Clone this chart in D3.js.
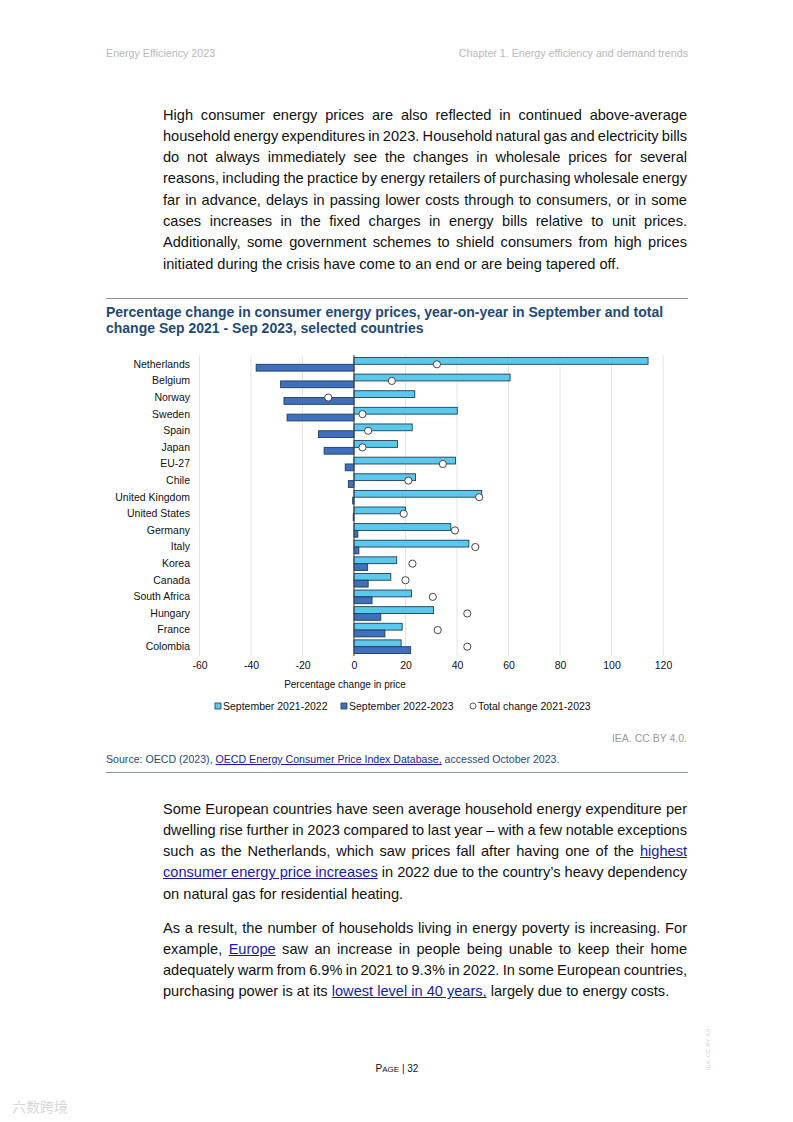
<!DOCTYPE html>
<html><head><meta charset="utf-8">
<script src="https://cdn.jsdelivr.net/npm/d3@7"></script>
<style>
html,body{margin:0;padding:0;background:#fff;}
#page{position:relative;width:793px;height:1122px;overflow:hidden;font-family:"Liberation Sans",Arial,sans-serif;}
svg{position:absolute;left:0;top:0;}
.para{position:absolute;left:163px;width:524px;font-size:14.6px;color:#111;}
.para div{height:21.3px;line-height:21.3px;white-space:nowrap;text-align:justify;text-align-last:justify;word-spacing:-1px;}
.para div.last{text-align-last:left;word-spacing:0;}
.para a{color:#1a1aa6;text-decoration:underline;}
</style></head>
<body><div id="page"></div>
<script>
const countries = ["Netherlands","Belgium","Norway","Sweden","Spain","Japan","EU-27","Chile","United Kingdom","United States","Germany","Italy","Korea","Canada","South Africa","Hungary","France","Colombia"];
const sep2122 = [114.2,60.6,23.6,40.1,22.6,16.9,39.4,23.9,49.6,20.0,37.6,44.6,16.6,14.3,22.3,30.9,18.7,18.3];
const sep2223 = [-38.0,-28.5,-27.2,-26.0,-13.8,-11.6,-3.4,-2.2,-0.5,-0.3,1.5,1.9,5.3,5.5,7.0,10.4,12.0,22.0];
const total2123 = [32.2,14.7,-10.0,3.3,5.5,3.3,34.5,21.1,48.6,19.3,39.2,47.1,22.7,20.0,30.6,44.0,32.5,44.0];
const xTicks = [-60,-40,-20,0,20,40,60,80,100,120];
const legendLabels = ["September 2021-2022","September 2022-2023","Total change 2021-2023"];

const page = d3.select("#page");
const W = 793, H = 1122;
const svg = page.append("svg").attr("width",W).attr("height",H);

// header
svg.append("text").attr("x",106).attr("y",57).attr("font-size",10.7).attr("fill","#b8b8b8").text("Energy Efficiency 2023");
svg.append("text").attr("x",688).attr("y",57).attr("text-anchor","end").attr("font-size",10.7).attr("fill","#b8b8b8").text("Chapter 1. Energy efficiency and demand trends");

// paragraphs
function para(top, lines){
  const p = page.append("div").attr("class","para").style("top",top+"px");
  lines.forEach((l,i)=>{ p.append("div").attr("class", l.last ? "last" : null).html(l.t); });
}
para(104.5,[
 {t:"High consumer energy prices are also reflected in continued above-average"},
 {t:"household energy expenditures in 2023. Household natural gas and electricity bills"},
 {t:"do not always immediately see the changes in wholesale prices for several"},
 {t:"reasons, including the practice by energy retailers of purchasing wholesale energy"},
 {t:"far in advance, delays in passing lower costs through to consumers, or in some"},
 {t:"cases increases in the fixed charges in energy bills relative to unit prices."},
 {t:"Additionally, some government schemes to shield consumers from high prices"},
 {t:"initiated during the crisis have come to an end or are being tapered off.", last:true}
]);
para(798.5,[
 {t:"Some European countries have seen average household energy expenditure per"},
 {t:"dwelling rise further in 2023 compared to last year – with a few notable exceptions"},
 {t:"such as the Netherlands, which saw prices fall after having one of the <a>highest</a>"},
 {t:"<a>consumer energy price increases</a> in 2022 due to the country’s heavy dependency"},
 {t:"on natural gas for residential heating.", last:true}
]);
para(917.5,[
 {t:"As a result, the number of households living in energy poverty is increasing. For"},
 {t:"example, <a>Europe</a> saw an increase in people being unable to keep their home"},
 {t:"adequately warm from 6.9% in 2021 to 9.3% in 2022. In some European countries,"},
 {t:"purchasing power is at its <a>lowest level in 40 years,</a> largely due to energy costs.", last:true}
]);

// chart frame lines and title
const navy = "#1f4a73";
svg.append("line").attr("x1",106).attr("x2",688).attr("y1",298.5).attr("y2",298.5).attr("stroke","#8597ab").attr("stroke-width",1);
svg.append("line").attr("x1",106).attr("x2",688).attr("y1",772.5).attr("y2",772.5).attr("stroke","#8597ab").attr("stroke-width",1);
const title = svg.append("text").attr("font-size",14).attr("font-weight","bold").attr("fill",navy);
title.append("tspan").attr("x",106).attr("y",317).text("Percentage change in consumer energy prices, year-on-year in September and total");
title.append("tspan").attr("x",106).attr("y",333).text("change Sep 2021 - Sep 2023, selected countries");

// scales
const x = d3.scaleLinear().domain([-60,120]).range([199.5,663]);
const y = d3.scaleBand().domain(countries).range([356,655]);
const bw = y.bandwidth();

// grid
svg.append("g").selectAll("line").data(xTicks).join("line")
  .attr("x1",d=>x(d)).attr("x2",d=>x(d)).attr("y1",355).attr("y2",656)
  .attr("stroke","#e4e4e4").attr("stroke-width",1);

// x axis labels
const xAxis = d3.axisBottom(x).tickValues(xTicks).tickSize(0).tickPadding(0).tickFormat(d=>String(d));
const gx = svg.append("g").attr("transform","translate(0,662)").call(xAxis);
gx.select(".domain").remove();
gx.selectAll("text").attr("font-size",10.5).attr("fill","#111").attr("font-family","Liberation Sans, Arial, sans-serif");
svg.append("text").attr("x",345).attr("y",688).attr("text-anchor","middle").attr("font-size",10).attr("fill","#111").text("Percentage change in price");

// y labels
const yAxis = d3.axisLeft(y).tickSize(0).tickPadding(0);
const gy = svg.append("g").attr("transform","translate(190,0)").call(yAxis);
gy.select(".domain").remove();
gy.selectAll("text").attr("font-size",10.5).attr("fill","#111").attr("font-family","Liberation Sans, Arial, sans-serif");

const lightC = "#5cc8ec", darkC = "#3f6fbd", strokeC = "#1c3f5e";
const bh = 6.8;
// light bars
svg.append("g").selectAll("rect").data(countries).join("rect")
  .attr("x",(d,i)=>Math.min(x(0),x(sep2122[i])))
  .attr("width",(d,i)=>Math.abs(x(sep2122[i])-x(0)))
  .attr("y",d=>y(d)+bw/2-bh).attr("height",bh)
  .attr("fill",lightC).attr("stroke",strokeC).attr("stroke-width",0.9);
// dark bars
svg.append("g").selectAll("rect").data(countries).join("rect")
  .attr("x",(d,i)=>Math.min(x(0),x(sep2223[i])))
  .attr("width",(d,i)=>Math.abs(x(sep2223[i])-x(0)))
  .attr("y",d=>y(d)+bw/2).attr("height",bh)
  .attr("fill",darkC).attr("stroke",strokeC).attr("stroke-width",0.9);
// zero line
svg.append("line").attr("x1",x(0)).attr("x2",x(0)).attr("y1",355).attr("y2",656).attr("stroke","#444").attr("stroke-width",1);
// circles
svg.append("g").selectAll("circle").data(countries).join("circle")
  .attr("cx",(d,i)=>x(total2123[i])).attr("cy",d=>y(d)+bw/2).attr("r",3.6)
  .attr("fill","#fff").attr("stroke","#333").attr("stroke-width",0.9);

// legend
const lg = svg.append("g").attr("font-size",10.5).attr("fill","#111");
const lx = [218,344,473];
lg.append("rect").attr("x",lx[0]-3).attr("y",703).attr("width",6).attr("height",6).attr("fill",lightC).attr("stroke",strokeC).attr("stroke-width",0.8);
lg.append("rect").attr("x",lx[1]-3).attr("y",703).attr("width",6).attr("height",6).attr("fill",darkC).attr("stroke",strokeC).attr("stroke-width",0.8);
lg.append("circle").attr("cx",lx[2]).attr("cy",706).attr("r",3).attr("fill","#fff").attr("stroke","#333").attr("stroke-width",0.8);
legendLabels.forEach((t,i)=>lg.append("text").attr("x",lx[i]+5).attr("y",710).attr("fill","#111").text(t));

// credits
svg.append("text").attr("x",687).attr("y",742).attr("text-anchor","end").attr("font-size",10.5).attr("fill","#9a9a9a").text("IEA. CC BY 4.0.");
const src = svg.append("text").attr("x",106).attr("y",763).attr("font-size",10.6).attr("fill",navy);
src.append("tspan").text("Source: OECD (2023), ");
src.append("tspan").attr("fill","#1a1aa6").attr("text-decoration","underline").text("OECD Energy Consumer Price Index Database,");
src.append("tspan").text(" accessed October 2023.");

// footer
const ft = svg.append("text").attr("x",397).attr("y",1072).attr("text-anchor","middle").attr("font-size",10).attr("fill","#111");
ft.append("tspan").text("P");
ft.append("tspan").attr("font-size",8).text("AGE");
ft.append("tspan").text(" | 32");
svg.append("text").attr("transform","translate(710,1070) rotate(-90)").attr("font-size",6).attr("fill","#d0d0d0").text("IEA. CC BY 4.0.");
svg.append("text").attr("x",12).attr("y",1112).attr("font-size",14).attr("fill","#d8d8d8").attr("font-family","Noto Sans CJK SC").text("六数跨境");
</script>
</body></html>
